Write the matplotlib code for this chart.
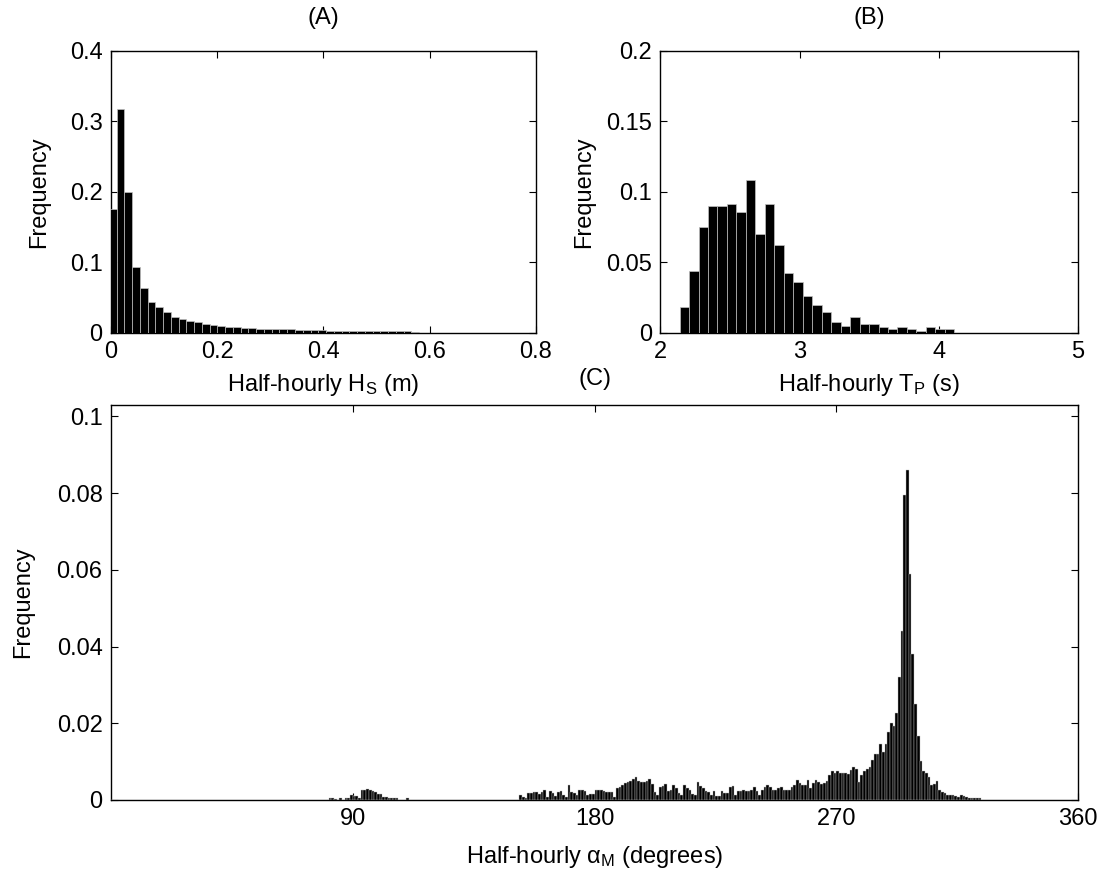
import matplotlib
matplotlib.use('Agg')
import matplotlib.pyplot as plt
import numpy as np

plt.rcParams['font.family'] = ['Liberation Sans', 'DejaVu Sans']
plt.rcParams['mathtext.fontset'] = 'custom'
plt.rcParams['mathtext.rm'] = 'Liberation Sans'
plt.rcParams['mathtext.it'] = 'Liberation Sans:italic'

# --- dados ---
# (A) altura significativa, histograma
hs_bin_start = -0.004
hs_bin_width = 0.0146
hs_freq = [0.176, 0.317, 0.200, 0.094, 0.063, 0.044, 0.036, 0.029, 0.023, 0.020,
           0.017, 0.015, 0.013, 0.011, 0.010, 0.009, 0.008, 0.007, 0.007, 0.006,
           0.006, 0.005, 0.005, 0.005, 0.004, 0.004, 0.004, 0.004, 0.003, 0.003,
           0.003, 0.003, 0.002, 0.002, 0.003, 0.002, 0.002, 0.002, 0.003, 0.001,
           0.0005, 0, 0, 0.0005, 0, 0, 0, 0, 0, 0,
           0, 0, 0, 0.0005]

# (B) periodo de pico
tp_bin_start = 2.139
tp_bin_width = 0.068
tp_freq = [0.0187, 0.0437, 0.0754, 0.090, 0.090, 0.0911, 0.0859, 0.1085, 0.070, 0.0911,
           0.0624, 0.0426, 0.0361, 0.0265, 0.020, 0.0146, 0.008, 0.005, 0.011, 0.006,
           0.006, 0.004, 0.003, 0.004, 0.003, 0.001, 0.004, 0.003, 0.003, 0,
           0, 0, 0, 0, 0, 0, 0, 0, 0, 0, 0]

# (C) direcao media, bins de 1 grau (0..360)
dir_grupo1_inicio = 80
dir_grupo1 = [0, 0.0005, 0.0005, 0.0002, 0, 0.0004, 0.0001, 0.0005, 0.0005, 0.0012,
              0.0011, 0.0010, 0.0006, 0.0027, 0.0027, 0.0028, 0.0027, 0.0024, 0.0020, 0.0016,
              0.0016, 0.0008, 0.0008, 0.0005, 0.0005, 0.0005, 0.0004, 0, 0, 0, 0.0005]

dir_grupo2_inicio = 152
dir_grupo2 = [0.0013, 0.0008, 0.0005, 0.0019, 0.0018, 0.0021, 0.0021, 0.0015, 0.0020, 0.0026,
              0.0008, 0.0024, 0.0019, 0.0010, 0.0022, 0.0024, 0.0012, 0.0008, 0.0038, 0.0022,
              0.0018, 0.0013, 0.0025, 0.0025, 0.0024, 0.0013, 0.0016, 0.0015, 0.0025, 0.0026,
              0.0026, 0.0024, 0.0021, 0.0021, 0.0020, 0.0008, 0.0031, 0.0033, 0.0040, 0.0044,
              0.0048, 0.0050, 0.0054, 0.0060, 0.0050, 0.0046, 0.0046, 0.0050, 0.0054, 0.0041,
              0.0020, 0.0013, 0.0035, 0.0037, 0.0041, 0.0024, 0.0026, 0.0040, 0.0030, 0.0019,
              0.0013, 0.0040, 0.0032, 0.0026, 0.0016, 0.0013, 0.0046, 0.0036, 0.0030, 0.0024,
              0.0020, 0.0012, 0.0024, 0.0011, 0.0011, 0.0024, 0.0019, 0.0019, 0.0035, 0.0036,
              0.0012, 0.0024, 0.0024, 0.0026, 0.0024, 0.0024,
              # 238 em diante
              0.0027, 0.0033, 0.0023, 0.0014, 0.0025, 0.0033, 0.0040, 0.0033, 0.0027, 0.0027,
              0.0030, 0.0033, 0.0027, 0.0027, 0.0027, 0.0033, 0.0040, 0.0052, 0.0045, 0.0038,
              0.0038, 0.0052, 0.0031, 0.0044, 0.0052, 0.0047, 0.0042, 0.0044, 0.0049, 0.0066,
              0.0075, 0.0069, 0.0075, 0.0069, 0.0069, 0.0069, 0.0067, 0.0077, 0.0086, 0.0082,
              0.0047, 0.0066, 0.0075, 0.0080, 0.0086, 0.0104, 0.0119, 0.0119, 0.0146, 0.0124,
              0.0146, 0.0176, 0.0201, 0.0193, 0.0227, 0.0320, 0.0441, 0.0795, 0.0861, 0.0589,
              0.0380, 0.0251, 0.0168, 0.0102, 0.0075, 0.0069, 0.0060, 0.0040, 0.0041, 0.0049,
              0.0027, 0.0020, 0.0017, 0.0013, 0.0013, 0.0013, 0.0011, 0.0009, 0.0013, 0.0011,
              0.0009, 0.0005, 0.0005, 0.0005, 0.0005, 0.0005]

dir_freq = np.zeros(360)
dir_freq[dir_grupo1_inicio:dir_grupo1_inicio + len(dir_grupo1)] = dir_grupo1
dir_freq[dir_grupo2_inicio:dir_grupo2_inicio + len(dir_grupo2)] = dir_grupo2

FS = 17


def estilo_matlab(ax):
    ax.tick_params(direction='in', top=True, right=True, length=5,
                   labelsize=FS, width=0.8, pad=6)
    for s in ax.spines.values():
        s.set_linewidth(1.0)


def barras(ax, inicio, largura, freq, lw=0.5):
    n = len(freq)
    x = inicio + largura * np.arange(n)
    ax.bar(x, freq, width=largura, align='edge', color='black',
           edgecolor='#c0c0c0', linewidth=lw, zorder=3)


fig = plt.figure(figsize=(11.04, 8.76), dpi=100)

# (A)
axA = fig.add_axes([0.1005, 0.620, 0.385, 0.322])
barras(axA, hs_bin_start, hs_bin_width, hs_freq)
axA.set_xlim(0, 0.8)
axA.set_ylim(0, 0.4)
axA.set_xticks([0, 0.2, 0.4, 0.6, 0.8])
axA.set_xticklabels(['0', '0.2', '0.4', '0.6', '0.8'])
axA.set_yticks([0, 0.1, 0.2, 0.3, 0.4])
axA.set_yticklabels(['0', '0.1', '0.2', '0.3', '0.4'])
axA.set_xlabel('Half-hourly H$_\\mathrm{S}$ (m)', fontsize=FS, labelpad=6)
axA.set_ylabel('Frequency', fontsize=FS, labelpad=14)
axA.set_title('(A)', fontsize=FS, pad=19)
estilo_matlab(axA)

# (B)
axB = fig.add_axes([0.598, 0.620, 0.3786, 0.322])
barras(axB, tp_bin_start, tp_bin_width, tp_freq)
axB.set_xlim(2, 5)
axB.set_ylim(0, 0.2)
axB.set_xticks([2, 3, 4, 5])
axB.set_xticklabels(['2', '3', '4', '5'])
axB.set_yticks([0, 0.05, 0.1, 0.15, 0.2])
axB.set_yticklabels(['0', '0.05', '0.1', '0.15', '0.2'])
axB.set_xlabel('Half-hourly T$_\\mathrm{P}$ (s)', fontsize=FS, labelpad=6)
axB.set_ylabel('Frequency', fontsize=FS, labelpad=8)
axB.set_title('(B)', fontsize=FS, pad=19)
estilo_matlab(axB)

# (C)
axC = fig.add_axes([0.1005, 0.0868, 0.876, 0.451])
barras(axC, 0, 1, dir_freq, lw=0.3)
axC.set_xlim(0, 360)
axC.set_ylim(0, 0.103)
axC.set_xticks([90, 180, 270, 360])
axC.set_xticklabels(['90', '180', '270', '360'])
axC.set_yticks([0, 0.02, 0.04, 0.06, 0.08, 0.1])
axC.set_yticklabels(['0', '0.02', '0.04', '0.06', '0.08', '0.1'])
axC.set_xlabel('Half-hourly α$_\\mathrm{M}$ (degrees)', fontsize=FS, labelpad=10)
axC.set_ylabel('Frequency', fontsize=FS, labelpad=16)
axC.set_title('(C)', fontsize=FS, pad=14)
estilo_matlab(axC)

fig.savefig('out.png', dpi=100)
